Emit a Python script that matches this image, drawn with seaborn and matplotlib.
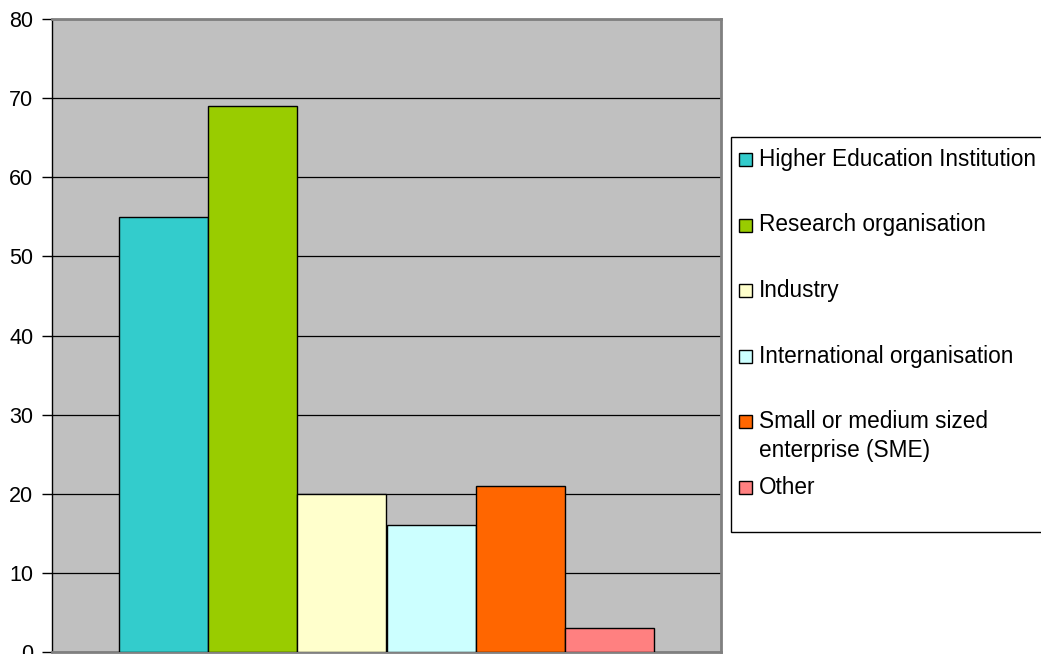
import matplotlib
matplotlib.use("Agg")
import matplotlib.pyplot as plt
import matplotlib.patches as mpatches
import seaborn as sns
import pandas as pd

categories = [
    "Higher Education Institution",
    "Research organisation",
    "Industry",
    "International organisation",
    "Small or medium sized enterprise (SME)",
    "Other",
]
legend_labels = [
    "Higher Education Institution",
    "Research organisation",
    "Industry",
    "International organisation",
    "Small or medium sized\nenterprise (SME)",
    "Other",
]
counts = [55, 69, 20, 16, 21, 3]
colors = ["#33CCCC", "#99CC00", "#FFFFCC", "#CCFFFF", "#FF6600", "#FF8080"]
y_ticks = [0, 10, 20, 30, 40, 50, 60, 70, 80]

df = pd.DataFrame({"group": [""] * len(categories), "category": categories, "count": counts})

sns.set_style("white")
plt.rcParams["font.family"] = ["Liberation Sans", "DejaVu Sans"]
plt.rcParams["text.color"] = "black"
plt.rcParams["ytick.color"] = "black"

W, H = 1041, 654
fig = plt.figure(figsize=(W / 100, H / 100), dpi=100)
ax = fig.add_axes([52 / W, 1 - 652 / H, (721 - 52) / W, (652 - 19) / H])

sns.barplot(
    data=df, x="group", y="count", hue="category", hue_order=categories,
    palette=colors, saturation=1, edgecolor="black", linewidth=1.0, width=0.8,
    ax=ax, legend=False, zorder=3,
)

ax.set_facecolor("#C0C0C0")
ax.set_ylim(0, 80)
ax.set_xlim(-0.5, 0.5)
ax.set_yticks(y_ticks)
ax.set_yticklabels([str(t) for t in y_ticks], fontsize=15.5)
ax.set_xticks([])
ax.set_xlabel("")
ax.set_ylabel("")
ax.yaxis.grid(True, color="#000000", linewidth=0.9, zorder=1)
ax.set_axisbelow(True)
ax.tick_params(axis="y", left=True, length=7, width=1, color="black", pad=6.5,
               labelcolor="black")

for side in ["top", "right", "bottom"]:
    ax.spines[side].set_color("#808080")
    ax.spines[side].set_linewidth(2)
ax.spines["left"].set_color("black")
ax.spines["left"].set_linewidth(1)

# Legend box on the right, entries in evenly spaced slots
fig.patches.append(mpatches.Rectangle(
    (731 / W, 1 - 532 / H), (1045 - 731) / W, (532 - 137) / H,
    transform=fig.transFigure, facecolor="white", edgecolor="black",
    linewidth=1, zorder=0,
))
slot0, slot_step, line_step = 158, 65.5, 29
sq = 13
for i, (label, color) in enumerate(zip(legend_labels, colors)):
    cy = slot0 + slot_step * i
    fig.patches.append(mpatches.Rectangle(
        (739 / W, 1 - (cy + 1.5 + sq / 2) / H), sq / W, sq / H,
        transform=fig.transFigure, facecolor=color, edgecolor="black",
        linewidth=1, zorder=2,
    ))
    for j, line in enumerate(label.split("\n")):
        fig.text(759 / W, 1 - (cy + 8 + line_step * j) / H, line,
                 fontsize=16.3, color="black", va="baseline", ha="left")

fig.savefig("out.png", dpi=100)
